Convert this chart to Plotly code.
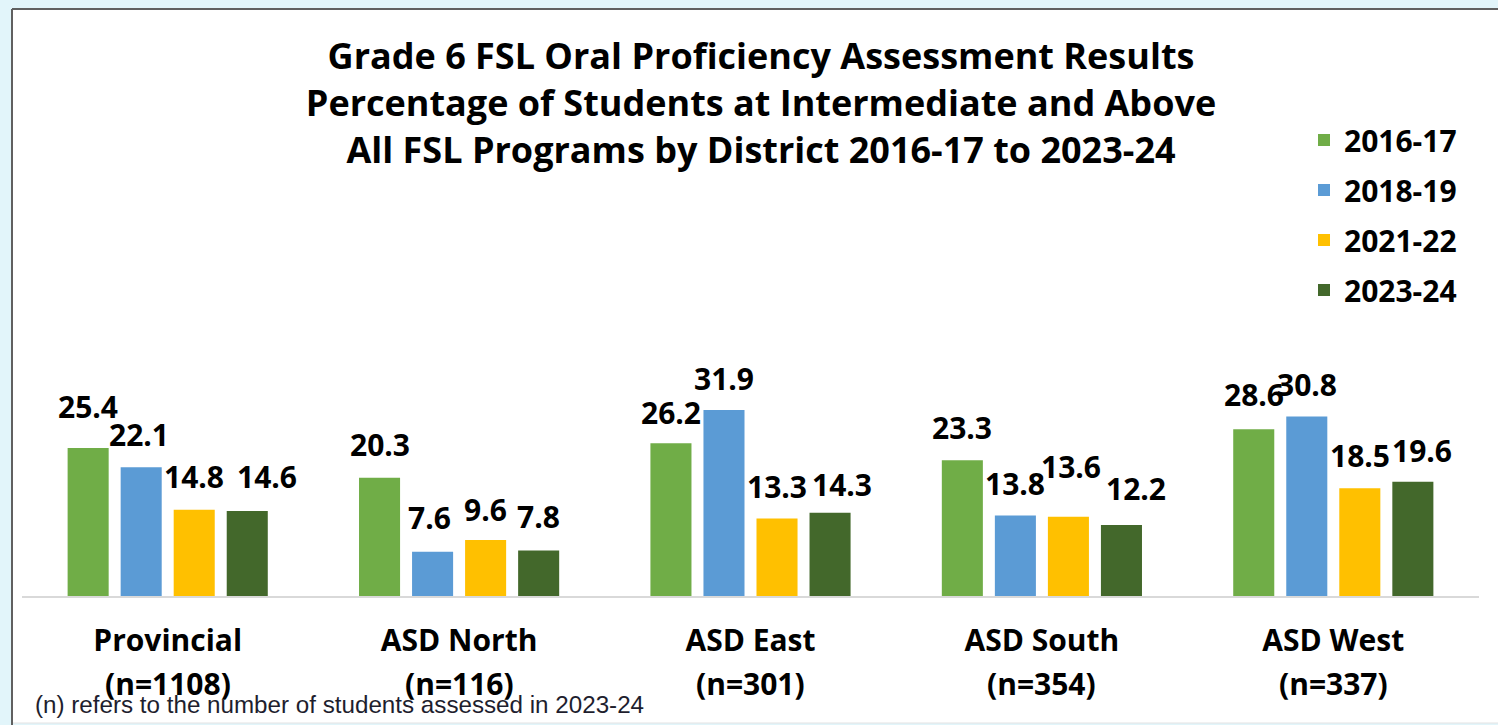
import plotly.graph_objects as go

# ---------------- data ----------------
categories = ["Provincial", "ASD North", "ASD East", "ASD South", "ASD West"]
n_labels = ["(n=1108)", "(n=116)", "(n=301)", "(n=354)", "(n=337)"]
series_names = ["2016-17", "2018-19", "2021-22", "2023-24"]
v_2016_17 = [25.4, 20.3, 26.2, 23.3, 28.6]
v_2018_19 = [22.1, 7.6, 31.9, 13.8, 30.8]
v_2021_22 = [14.8, 9.6, 13.3, 13.6, 18.5]
v_2023_24 = [14.6, 7.8, 14.3, 12.2, 19.6]
series_values = [v_2016_17, v_2018_19, v_2021_22, v_2023_24]

title_lines = [
    "Grade 6 FSL Oral Proficiency Assessment Results",
    "Percentage of Students at Intermediate and Above",
    "All FSL Programs by District 2016-17 to 2023-24",
]
footnote = "(n) refers to the number of students assessed in 2023-24"

# ---------------- style ----------------
colors = ["#70ad47", "#5b9bd5", "#ffc000", "#43682b"]
FONT = "Open Sans, Noto Sans, DejaVu Sans, sans-serif"
W, H = 1498, 725
ML, MR, MT, MB = 22, 19, 392, 129
BARGAP, BARGROUPGAP = 0.272, 0.226
Y_MAX = 35

# per-label manual offsets (pixels) of value labels: [series][category]
label_dx = [[0, 0, 0, 0, 0],
            [-2, -3, 0, 0, 0],
            [0, 0, 0, 3, 0],
            [20, 0, 12, 15, 9]]
label_dy = [[41, 33, 31, 33, 35],
            [33, 34, 32, 32, 32],
            [33, 31, 32, 50, 33],
            [34, 34, 28, 36, 31]]

fig = go.Figure()
for j, (name, vals) in enumerate(zip(series_names, series_values)):
    fig.add_trace(go.Bar(
        name=name, x=categories, y=vals,
        marker=dict(color=colors[j], line=dict(width=0)),
        legendgroup=name,
        hoverinfo="x+y+name",
    ))

# convert container pixels to paper coords (plot area is fixed by margins)
pw, ph = W - ML - MR, H - MT - MB
def px(xp):
    return (xp - ML) / pw
def py(yp):
    return (H - MB - yp) / ph

n_series = len(series_names)
slot = (1 - BARGAP) / n_series
annotations = []
for j, vals in enumerate(series_values):
    for i, v in enumerate(vals):
        annotations.append(dict(
            x=i + (j - (n_series - 1) / 2) * slot, y=v, xref="x", yref="y",
            text=f"{v:.1f}", showarrow=False, xanchor="center", yanchor="middle",
            xshift=label_dx[j][i], yshift=label_dy[j][i],
            font=dict(family=FONT, size=30, color="#000", weight=700),
        ))
for i, t in enumerate(n_labels):
    annotations.append(dict(
        x=i, y=0, xref="x", yref="y", text=t, showarrow=False,
        xanchor="center", yanchor="middle", yshift=-87,
        font=dict(family=FONT, size=30, color="#000", weight=700),
    ))
annotations.append(dict(
    x=px(33), y=py(704), xref="paper", yref="paper", text=footnote,
    showarrow=False, xanchor="left", yanchor="middle",
    font=dict(family="Liberation Sans, Arial, sans-serif", size=24.2, color="#1e1e2e"),
))

shapes = [
    dict(type="rect", xref="paper", yref="paper", x0=px(12), x1=px(1500), y0=py(723), y1=py(9),
         fillcolor="white", line=dict(width=0), layer="below"),
    dict(type="line", xref="paper", yref="paper", x0=px(12), x1=px(1500), y0=py(723), y1=py(723),
         line=dict(color="#e3e3e3", width=1), layer="below"),
    dict(type="line", xref="paper", yref="paper", x0=px(12), x1=px(12), y0=py(725), y1=py(9),
         line=dict(color="#606060", width=2), layer="below"),
    dict(type="line", xref="paper", yref="paper", x0=px(12), x1=px(1500), y0=py(9), y1=py(9),
         line=dict(color="#606060", width=2), layer="below"),
]

fig.update_layout(
    width=W, height=H,
    margin=dict(l=ML, r=MR, t=MT, b=MB, pad=0, autoexpand=False),
    paper_bgcolor="#e2f5fa", plot_bgcolor="rgba(0,0,0,0)",
    barmode="group", bargap=BARGAP, bargroupgap=BARGROUPGAP,
    title=dict(text="<br>".join(title_lines), x=761 / W, xref="container", xanchor="center",
               y=1 - 69 / H, yref="container", yanchor="middle",
               font=dict(family=FONT, size=36, color="#000", weight=700)),
    xaxis=dict(showline=True, linecolor="#d9d9d9", linewidth=2, ticks="", showgrid=False,
               tickfont=dict(family=FONT, size=30, color="#000", weight=700),
               ticklabelstandoff=17, fixedrange=True),
    yaxis=dict(range=[0, Y_MAX], visible=False, showgrid=False, fixedrange=True),
    legend=dict(xref="container", yref="container", x=1304 / W, y=1 - 114 / H,
                xanchor="left", yanchor="top", tracegroupgap=8, itemwidth=30,
                font=dict(family=FONT, size=30, color="#000", weight=700),
                bgcolor="rgba(0,0,0,0)"),
    showlegend=True,
    annotations=annotations,
    shapes=shapes,
)

fig.write_html(
    "out.html",
    config={"displayModeBar": False},
    post_script="document.body.style.margin='0';document.body.style.background='#e2f5fa';",
)
